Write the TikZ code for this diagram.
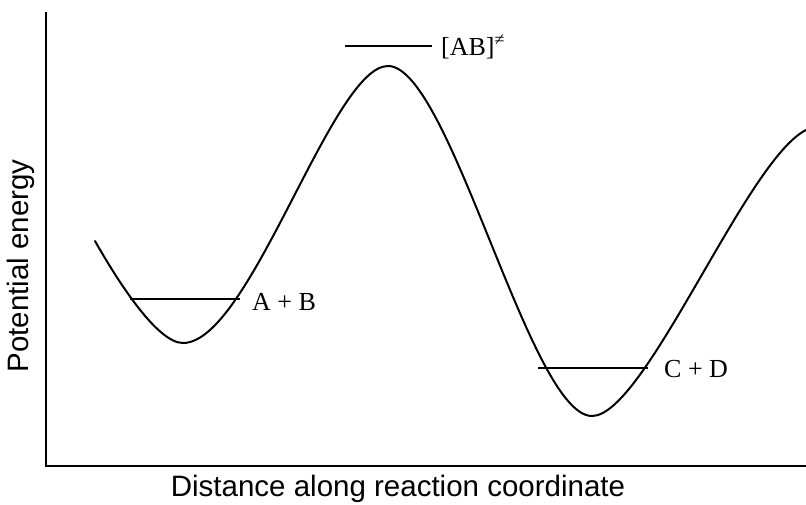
\documentclass[tikz,border=0pt]{standalone}
\usepackage{fontspec}
\setmainfont{Liberation Serif}
\newfontfamily\axisfont{Liberation Sans}
\begin{document}
\begin{tikzpicture}[x=1pt,y=-1pt,
  curve/.style={line width=2pt,line cap=round},
  axis/.style={line width=2pt},
  level/.style={line width=2pt},
  lbl/.style={font=\fontsize{26}{30}\selectfont,inner sep=0pt,anchor=base west},
  axlbl/.style={font=\axisfont\fontsize{29.5}{32}\selectfont,inner sep=0pt}]
\useasboundingbox (0,0) rectangle (806,505);
% axes
\coordinate (o) at (46,466);
\coordinate (ytop) at (46,12);
\coordinate (xend) at (806,466);
\draw[axis] (ytop) -- (o) -- (xend);
% curve
\coordinate (s) at (95,241);
\coordinate (m1) at (183,343);
\coordinate (pk) at (388,66);
\coordinate (m2) at (592,416);
\coordinate (e) at (806,130);
\draw[curve] (s) .. controls (120,285) and (158,343) .. (m1)
  .. controls (250,343) and (332,66) .. (pk)
  .. controls (450,66) and (530,416) .. (m2)
  .. controls (645,416) and (746,160) .. (e);
% levels
\coordinate (ab1) at (130,299);
\coordinate (ab2) at (240,299);
\draw[level] (ab1) -- (ab2);
\node[lbl] (abl) at (252,310) {A + B};
\coordinate (ts1) at (345,46);
\coordinate (ts2) at (432,46);
\draw[level] (ts1) -- (ts2);
\node[lbl] (tsl) at (441,56) {[AB]\raisebox{0.42em}{\fontsize{18}{18}\selectfont ≠}};
\coordinate (cd1) at (538,368);
\coordinate (cd2) at (648,368);
\draw[level] (cd1) -- (cd2);
\node[lbl] (cdl) at (664,377) {C + D};
% axis labels
\node[axlbl,rotate=90] (ylab) at (21,266) {Potential energy};
\node[axlbl] (xlab) at (398,489) {Distance along reaction coordinate};
\end{tikzpicture}
\end{document}
